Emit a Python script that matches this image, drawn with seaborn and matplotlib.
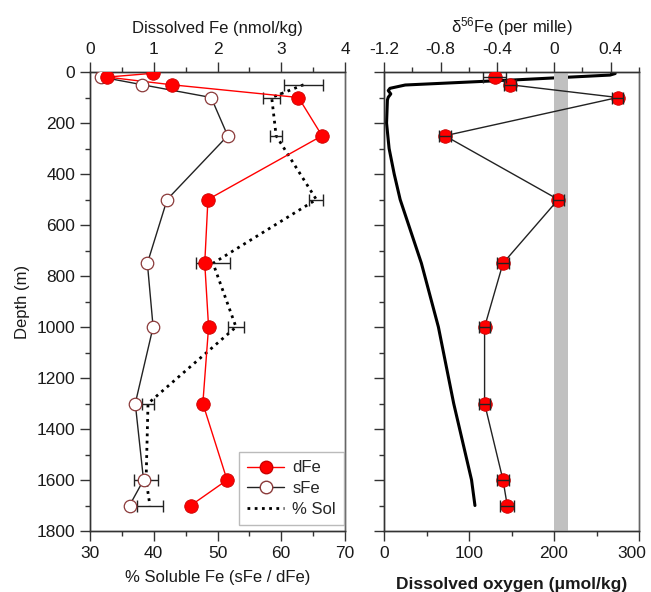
import numpy as np
import pandas as pd
import matplotlib
matplotlib.use("Agg")
import matplotlib.pyplot as plt
import matplotlib.transforms as mtransforms
from matplotlib.lines import Line2D
from matplotlib.ticker import MultipleLocator
import seaborn as sns

# ---------------- data ----------------
depth_fe = [5, 20, 50, 100, 250, 500, 750, 1000, 1300, 1600, 1700]
dfe = [0.99, 0.27, 1.28, 3.27, 3.64, 1.85, 1.80, 1.86, 1.77, 2.15, 1.58]

depth_sfe = [20, 50, 100, 250, 500, 750, 1000, 1300, 1600, 1700]
sfe = [0.18, 0.82, 1.90, 2.16, 1.21, 0.90, 0.99, 0.71, 0.84, 0.62]

depth_sol = [50, 100, 250, 500, 750, 1000, 1300, 1600, 1700]
sol = [63.5, 58.5, 59.2, 65.5, 49.3, 52.9, 39.1, 38.8, 39.4]
sol_err = [3.0, 1.3, 0.9, 1.1, 2.6, 1.3, 1.0, 1.9, 2.1]

depth_d56 = [20, 50, 100, 250, 500, 750, 1000, 1300, 1600, 1700]
d56 = [-0.42, -0.31, 0.45, -0.77, 0.03, -0.36, -0.49, -0.49, -0.36, -0.33]
d56_err = [0.08, 0.04, 0.04, 0.04, 0.04, 0.04, 0.04, 0.04, 0.04, 0.05]

depth_o2 = [3, 6, 12, 30, 51, 64, 73, 86, 99, 110, 200, 300, 400, 500, 750, 1000, 1300, 1600, 1700]
o2 = [268, 272, 266, 160, 25, 7, 5, 8, 5, 4, 3, 6, 12, 19, 44, 64, 82, 103, 107]

crustal_band = [0.0, 0.1]

# ---------------- style ----------------
sns.set_theme(style="ticks")
plt.rcParams["font.family"] = ["Liberation Sans", "DejaVu Sans"]
plt.rcParams["mathtext.default"] = "regular"
FS = 12.5
LFS = 12.0

fig = plt.figure(figsize=(6.51, 5.92), dpi=100)
W, H = 651, 592
axL = fig.add_axes([90 / W, 1 - 531 / H, 255 / W, 459 / H])
axR = fig.add_axes([384 / W, 1 - 531 / H, 255 / W, 459 / H])
axLt = axL.twiny()
axRt = axR.twiny()


def style(ax):
    for s in ax.spines.values():
        s.set_color("#333333")
        s.set_linewidth(1.0)
    ax.spines["right"].set_color("#666666")
    ax.tick_params(which="both", direction="out", colors="#333333",
                   labelcolor="#1a1a1a", labelsize=FS, width=1.0)
    ax.tick_params(which="major", length=7.5, pad=3)
    ax.tick_params(which="minor", length=3.5)
    ax.grid(False)


for ax in (axL, axR, axLt, axRt):
    style(ax)

# ---------------- left panel ----------------
df_sol = pd.DataFrame({"sol": sol, "depth": depth_sol})
sns.lineplot(data=df_sol, x="sol", y="depth", sort=False, estimator=None,
             ax=axL, color="black", lw=2.0, linestyle=(0, (1, 1.6)))
axL.errorbar(sol, depth_sol, xerr=sol_err, fmt="none", ecolor="#222222",
             elinewidth=1.0, capsize=4.5, capthick=1.0, zorder=3)

df_dfe = pd.DataFrame({"fe": dfe, "depth": depth_fe})
df_sfe = pd.DataFrame({"fe": sfe, "depth": depth_sfe})
sns.lineplot(data=df_sfe, x="fe", y="depth", sort=False, estimator=None,
             ax=axLt, color="#222222", lw=1.0, zorder=2)
sns.lineplot(data=df_dfe, x="fe", y="depth", sort=False, estimator=None,
             ax=axLt, color="red", lw=1.0, zorder=2)
axLt.plot(sfe, depth_sfe, ls="none", marker="o", ms=9, mfc="white",
          mec="#8b3a3a", mew=0.9, zorder=4)
sns.scatterplot(data=df_dfe, x="fe", y="depth", ax=axLt, color="red",
                edgecolor="#cc0000", linewidth=0.6, s=95, zorder=5, legend=False)

axL.set_xlim(30, 70)
axLt.set_xlim(0, 4)
axL.set_ylim(1800, 0)
axL.xaxis.set_major_locator(MultipleLocator(10))
axL.xaxis.set_minor_locator(MultipleLocator(5))
axLt.xaxis.set_major_locator(MultipleLocator(1))
axLt.xaxis.set_minor_locator(MultipleLocator(0.5))
axL.yaxis.set_major_locator(MultipleLocator(200))
axL.yaxis.set_minor_locator(MultipleLocator(100))
axL.set_xlabel("% Soluble Fe (sFe / dFe)", fontsize=LFS, color="#1a1a1a", labelpad=7)
axLt.set_xlabel("Dissolved Fe (nmol/kg)", fontsize=LFS, color="#1a1a1a", labelpad=7)
axL.set_ylabel("Depth (m)", fontsize=LFS, color="#1a1a1a", labelpad=5)
axLt.set_ylabel("")

handles = [
    Line2D([], [], color="red", lw=1.0, marker="o", ms=9, mfc="red", mec="#cc0000"),
    Line2D([], [], color="#222222", lw=1.0, marker="o", ms=9, mfc="white", mec="#8b3a3a"),
    Line2D([], [], color="black", lw=2.0, linestyle=(0, (1, 1.6))),
]
leg = axLt.legend(handles, ["dFe", "sFe", "% Sol"], loc="lower right",
                  bbox_to_anchor=(0.997, 0.012), borderaxespad=0.0,
                  fontsize=LFS, frameon=True,
                  fancybox=False, edgecolor="#aaaaaa", handlelength=2.2,
                  borderpad=0.5, labelspacing=0.35, handletextpad=0.5)
leg.get_frame().set_linewidth(1.0)

# ---------------- right panel ----------------
axRt.axvspan(crustal_band[0], crustal_band[1], color="#c0c0c0", lw=0, zorder=0)
df_o2 = pd.DataFrame({"o2": o2, "depth": depth_o2})
sns.lineplot(data=df_o2, x="o2", y="depth", sort=False, estimator=None,
             ax=axR, color="black", lw=2.2)

df_d56 = pd.DataFrame({"d56": d56, "depth": depth_d56})
sns.lineplot(data=df_d56, x="d56", y="depth", sort=False, estimator=None,
             ax=axRt, color="#222222", lw=1.0, zorder=2)
sns.scatterplot(data=df_d56, x="d56", y="depth", ax=axRt, color="red",
                edgecolor="#cc0000", linewidth=0.6, s=95, zorder=4, legend=False)
axRt.errorbar(d56, depth_d56, xerr=d56_err, fmt="none", ecolor="#222222",
              elinewidth=1.0, capsize=4.5, capthick=1.0, zorder=5)

axR.set_xlim(0, 300)
axRt.set_xlim(-1.2, 0.6)
axR.set_ylim(1800, 0)
axR.xaxis.set_major_locator(MultipleLocator(100))
axR.xaxis.set_minor_locator(MultipleLocator(50))
axRt.xaxis.set_major_locator(MultipleLocator(0.4))
axRt.xaxis.set_minor_locator(MultipleLocator(0.2))
axR.yaxis.set_major_locator(MultipleLocator(200))
axR.yaxis.set_minor_locator(MultipleLocator(100))
axR.tick_params(axis="y", labelleft=False)
axR.set_ylabel("")
axRt.set_ylabel("")
axRt.xaxis.set_major_formatter(plt.FuncFormatter(lambda v, p: "0" if abs(v) < 1e-9 else f"{v:.1f}"))
axR.set_xlabel("Dissolved oxygen (μmol/kg)", fontsize=LFS + 0.5, fontweight="bold",
               color="#1a1a1a", labelpad=12)
axRt.set_xlabel("δ$^{56}$Fe (per mille)", fontsize=LFS, color="#1a1a1a", labelpad=7)

# keep the last bottom tick label ("300") inside the figure
fig.canvas.draw()
for lab in axR.get_xticklabels():
    if lab.get_text() == "300":
        lab.set_transform(lab.get_transform() +
                          mtransforms.ScaledTranslation(-7 / 100, 0, fig.dpi_scale_trans))

fig.savefig("out.png", dpi=100)
